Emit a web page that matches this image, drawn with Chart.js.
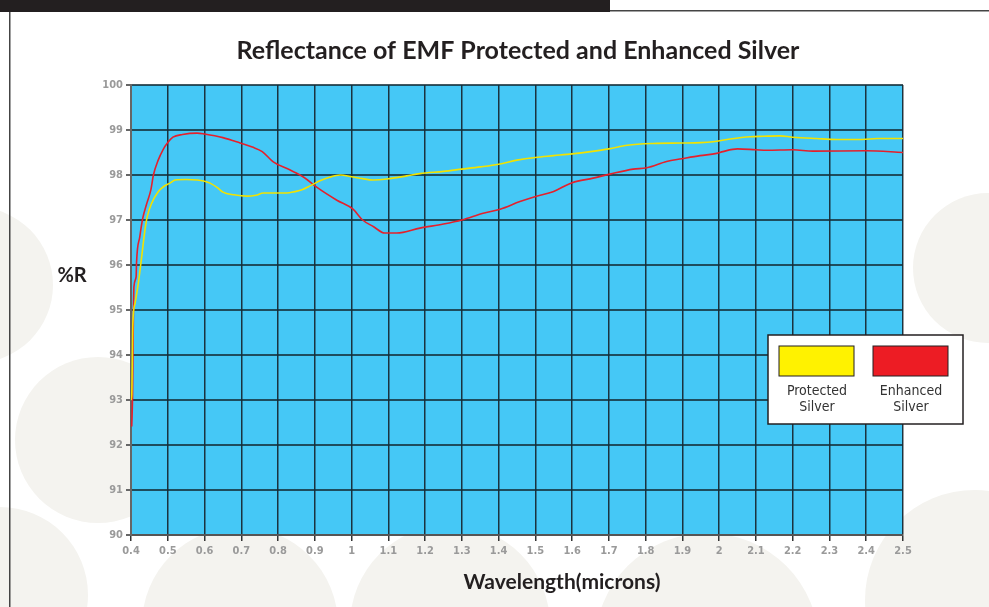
<!DOCTYPE html>
<html>
<head>
<meta charset="utf-8">
<script src="https://cdn.jsdelivr.net/npm/chart.js@4.4.1/dist/chart.umd.min.js"></script>
<style>
  html, body { margin: 0; padding: 0; background: #fff; }
  #wrap { width: 989px; height: 607px; position: relative; }
</style>
</head>
<body>
<div id="wrap"><canvas id="chart"></canvas></div>
<script>
// wavelength (microns) / reflectance (%R)
const protectedX = [0.4, 0.402, 0.405, 0.411, 0.42, 0.429, 0.438, 0.444, 0.456, 0.474, 0.49, 0.506, 0.52, 0.55, 0.58, 0.6, 0.615, 0.635, 0.65, 0.68, 0.715, 0.74, 0.76, 0.8, 0.824, 0.845, 0.865, 0.89, 0.914, 0.94, 0.969, 1.0, 1.03, 1.058, 1.096, 1.15, 1.186, 1.25, 1.3, 1.35, 1.4, 1.45, 1.5, 1.55, 1.6, 1.65, 1.7, 1.75, 1.82, 1.9, 1.95, 1.983, 2.03, 2.084, 2.12, 2.165, 2.2, 2.265, 2.32, 2.39, 2.43, 2.5];
const protectedR = [93.0, 93.1, 94.7, 95.15, 95.6, 96.18, 96.78, 97.07, 97.37, 97.63, 97.75, 97.82, 97.89, 97.9, 97.89, 97.86, 97.82, 97.72, 97.62, 97.56, 97.53, 97.55, 97.6, 97.6, 97.6, 97.63, 97.67, 97.77, 97.87, 97.95, 98.0, 97.96, 97.92, 97.89, 97.91, 97.98, 98.03, 98.08, 98.13, 98.18, 98.24, 98.33, 98.39, 98.43, 98.47, 98.52, 98.58, 98.66, 98.7, 98.71, 98.72, 98.74, 98.8, 98.85, 98.86, 98.87, 98.84, 98.81, 98.79, 98.79, 98.81, 98.81];

const enhancedX = [0.402, 0.404, 0.406, 0.408, 0.414, 0.415, 0.424, 0.432, 0.443, 0.454, 0.461, 0.474, 0.487, 0.5, 0.514, 0.54, 0.58, 0.6, 0.65, 0.697, 0.73, 0.757, 0.787, 0.833, 0.87, 0.905, 0.96, 1.004, 1.03, 1.06, 1.09, 1.123, 1.186, 1.25, 1.3, 1.358, 1.404, 1.458, 1.503, 1.548, 1.6, 1.657, 1.703, 1.766, 1.803, 1.857, 1.898, 1.948, 1.993, 2.01, 2.05, 2.1, 2.13, 2.2, 2.255, 2.4, 2.5];
const enhancedR = [92.41, 93.0, 94.5, 95.52, 95.74, 96.04, 96.63, 97.04, 97.37, 97.67, 98.0, 98.33, 98.56, 98.72, 98.84, 98.9, 98.93, 98.91, 98.83, 98.71, 98.62, 98.52, 98.29, 98.11, 97.95, 97.73, 97.44, 97.24, 97.0, 96.85, 96.71, 96.71, 96.82, 96.91, 97.0, 97.15, 97.24, 97.41, 97.53, 97.63, 97.83, 97.93, 98.02, 98.13, 98.16, 98.3, 98.36, 98.43, 98.48, 98.52, 98.58, 98.56, 98.55, 98.56, 98.53, 98.54, 98.5];

const xTickLabels = ['0.4', '0.5', '0.6', '0.7', '0.8', '0.9', '1', '1.1', '1.2', '1.3', '1.4', '1.5',
  '1.6', '1.7', '1.8', '1.9', '2', '2.1', '2.2', '2.3', '2.4', '2.5'];
const yTicks = [90, 91, 92, 93, 94, 95, 96, 97, 98, 99, 100];

const TITLE = 'Reflectance of EMF Protected and Enhanced Silver';
const X_TITLE = 'Wavelength(microns)';
const Y_TITLE = '%R';

const PLOT_BG = '#45c8f6';
const CIRCLE = '#f4f3ef';

// page decoration + plot background
const backdrop = {
  id: 'backdrop',
  beforeDraw(chart) {
    const { ctx, chartArea: a } = chart;
    ctx.save();
    ctx.fillStyle = CIRCLE;
    [[-25, 285, 78], [98, 440, 83], [0, 595, 88], [240, 625, 98], [450, 625, 100],
     [707, 645, 112], [975, 600, 110], [988, 268, 75]].forEach(([x, y, r]) => {
      ctx.beginPath();
      ctx.arc(x, y, r, 0, Math.PI * 2);
      ctx.fill();
    });
    // frame
    ctx.fillStyle = '#231f20';
    ctx.fillRect(0, 0, 610, 12);
    ctx.fillStyle = '#444';
    ctx.fillRect(610, 10, 379, 1.5);
    ctx.fillRect(9, 12, 1.5, 595);
    // plot area
    ctx.fillStyle = PLOT_BG;
    ctx.fillRect(a.left, a.top, a.right - a.left, a.bottom - a.top);
    ctx.restore();
  },
  afterDraw(chart) {
    const { ctx } = chart;
    ctx.save();
    ctx.fillStyle = '#231f20';
    ctx.textAlign = 'center';
    ctx.textBaseline = 'middle';
    ctx.font = 'bold 25px Lato, sans-serif';
    ctx.fillText(TITLE, 518, 51);
    ctx.font = 'bold 21px Lato, sans-serif';
    ctx.fillText(X_TITLE, 562, 582);
    ctx.font = 'bold 20px Lato, sans-serif';
    ctx.fillText(Y_TITLE, 72, 276);

    // legend box
    ctx.fillStyle = '#fff';
    ctx.fillRect(768, 335, 195, 89);
    ctx.strokeStyle = '#231f20';
    ctx.lineWidth = 1.5;
    ctx.strokeRect(768, 335, 195, 89);
    chart.data.datasets.forEach((ds, i) => {
      const x0 = 779 + i * 94;
      ctx.fillStyle = ds.swatch;
      ctx.fillRect(x0, 346, 75, 30);
      ctx.lineWidth = 1;
      ctx.strokeStyle = '#231f20';
      ctx.strokeRect(x0, 346, 75, 30);
      ctx.fillStyle = '#333';
      ctx.font = '14px "Liberation Sans Narrow", "DejaVu Sans Condensed", sans-serif';
      ds.label.split(' ').forEach((w, j) => ctx.fillText(w, x0 + 38, 391 + j * 16));
    });
    ctx.restore();
  }
};

const tickFont = { family: '"Liberation Sans Narrow", "DejaVu Sans Condensed", sans-serif', size: 11, weight: 'bold' };

new Chart(document.getElementById('chart'), {
  type: 'line',
  data: {
    datasets: [
      {
        label: 'Protected Silver',
        data: protectedX.map((x, i) => ({ x, y: protectedR[i] })),
        borderColor: '#f2e200',
        swatch: '#fff200',
        borderWidth: 1.6,
        pointRadius: 0,
        cubicInterpolationMode: 'monotone',
      },
      {
        label: 'Enhanced Silver',
        data: enhancedX.map((x, i) => ({ x, y: enhancedR[i] })),
        borderColor: '#e5202b',
        swatch: '#ed1c24',
        borderWidth: 1.6,
        pointRadius: 0,
        cubicInterpolationMode: 'monotone',
      },
    ],
  },
  options: {
    responsive: true,
    maintainAspectRatio: false,
    animation: false,
    layout: { padding: { top: 85, left: 100, right: 86, bottom: 42 } },
    plugins: { legend: { display: false }, tooltip: { enabled: false }, title: { display: false } },
    scales: {
      x: {
        type: 'linear',
        min: 0.4,
        max: 2.5,
        afterFit: s => { s.height = 30; },
        ticks: {
          stepSize: 0.1,
          autoSkip: false,
          maxRotation: 0,
          color: '#9a9a9a',
          font: tickFont,
          padding: 4,
          callback: v => xTickLabels[Math.round((v - 0.4) * 10)],
        },
        grid: { color: 'rgba(20,25,30,0.85)', lineWidth: 1.5, tickLength: 6, tickColor: '#333' },
        border: { color: '#555', width: 2 },
      },
      y: {
        min: yTicks[0],
        max: yTicks[yTicks.length - 1],
        afterFit: s => { s.width = 31; },
        ticks: { stepSize: 1, color: '#9a9a9a', font: tickFont, padding: 3 },
        grid: { color: 'rgba(20,45,55,0.8)', lineWidth: 2, tickLength: 5, tickColor: '#666' },
        border: { color: '#666', width: 2 },
      },
    },
  },
  plugins: [backdrop],
});
</script>
</body>
</html>
